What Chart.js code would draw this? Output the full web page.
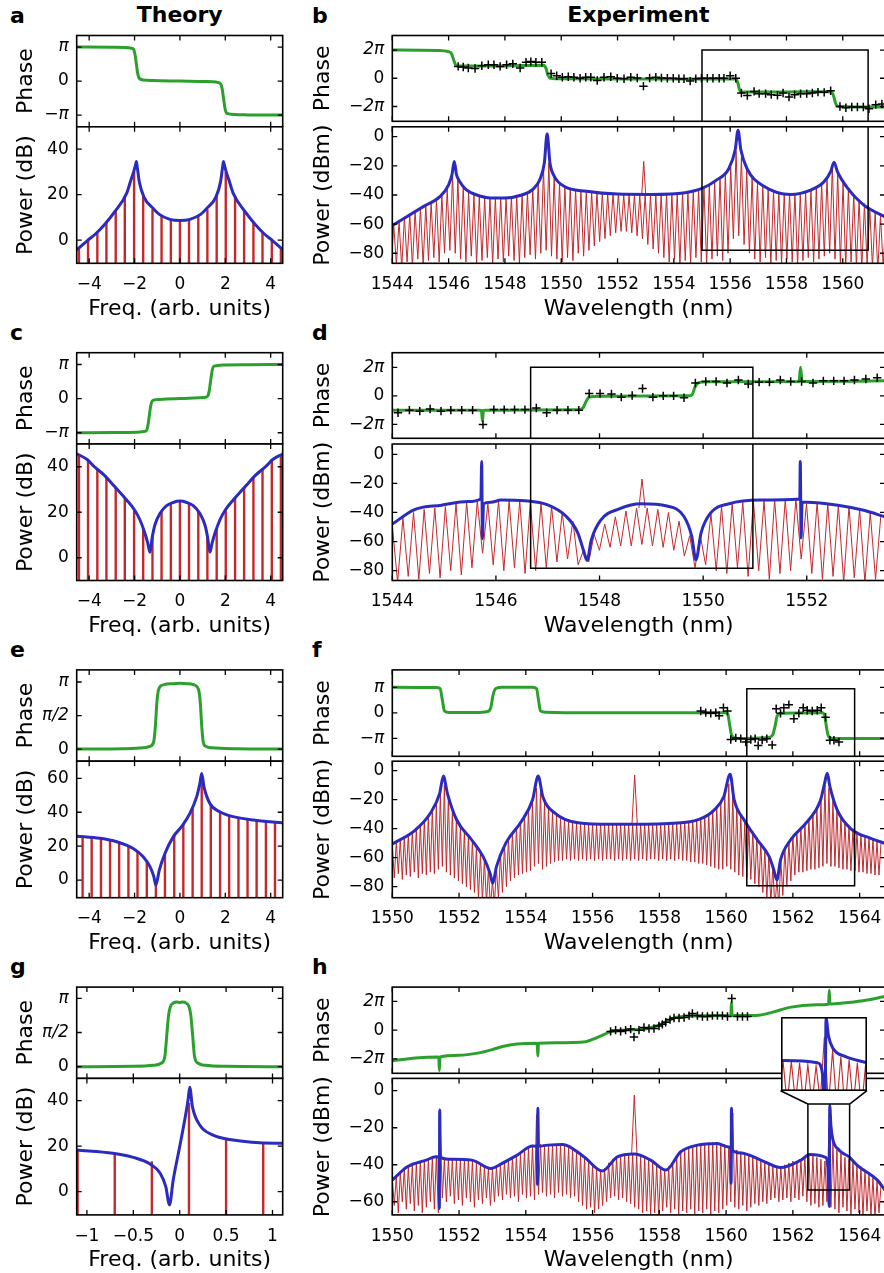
<!DOCTYPE html>
<html lang="en">
<head>
<meta charset="UTF-8">
<title>Theory vs experiment: phase and power spectra</title>
<script src="https://cdn.jsdelivr.net/npm/chart.js"></script>
<style>
  html, body { margin: 0; padding: 0; background: #fff; overflow: hidden; }
  body { width: 884px; height: 1273px; position: relative; font-family: "DejaVu Sans", sans-serif; }
  canvas { position: absolute; }
  .lbl { position: absolute; font: bold 22px "DejaVu Sans", sans-serif; line-height: 22px; color: #000; white-space: nowrap; }
</style>
</head>
<body>
<div class="lbl" style="left:10px;top:4.7px">a</div>
<div class="lbl" style="left:312px;top:4.7px">b</div>
<div class="lbl" style="left:10px;top:321.9px">c</div>
<div class="lbl" style="left:312px;top:321.9px">d</div>
<div class="lbl" style="left:10px;top:639.1px">e</div>
<div class="lbl" style="left:312px;top:639.1px">f</div>
<div class="lbl" style="left:10px;top:956.3px">g</div>
<div class="lbl" style="left:312px;top:956.3px">h</div>
<div class="lbl" style="left:76.7px;width:206px;text-align:center;top:4.2px">Theory</div>
<div class="lbl" style="left:392.3px;width:492px;text-align:center;top:4.2px">Experiment</div>

<script>
// ---------------- data (phase values are in units of pi) ----------------

// axis ticks
const thFreqTicks = [-4, -2, 0, 2, 4];
const thFreqLabels = ['−4', '−2', '0', '2', '4'];
const gFreqTicks = [-1, -0.5, 0, 0.5, 1];
const gFreqLabels = ['−1', '−0.5', '0', '0.5', '1'];
const wlTicksB = [1544, 1546, 1548, 1550, 1552, 1554, 1556, 1558, 1560];
const wlTicksD = [1544, 1546, 1548, 1550, 1552];
const wlTicksF = [1550, 1552, 1554, 1556, 1558, 1560, 1562, 1564];
const piTicks = [-1, 0, 1], piLabels = ['−π', '0', 'π'];
const halfPiTicks = [0, 0.5, 1], halfPiLabels = ['0', 'π/2', 'π'];
const twoPiTicks = [-2, 0, 2], twoPiLabels = ['−2π', '0', '2π'];
const dbTicks40 = [0, 20, 40];
const dbTicks60 = [0, 20, 40, 60];
const dbmTicks80 = [-80, -60, -40, -20, 0];
const dbmTicks60 = [-60, -40, -20, 0];

// ---- theory: a ----
const aPhase = [[-4.55,1.0],[-3.0,0.995],[-2.4,0.985],[-2.15,0.965],[-2.04,0.93],[-1.98,0.78],[-1.92,0.5],[-1.86,0.22],[-1.78,0.07],[-1.6,0.03],[-1.2,0.015],[0,0],
  [1.2,-0.015],[1.6,-0.03],[1.78,-0.07],[1.86,-0.22],[1.92,-0.5],[1.98,-0.78],[2.04,-0.93],[2.15,-0.965],[2.4,-0.985],[3.0,-0.995],[4.53,-1.0]];
const aBlue = [[-4.55,-4.3],[-4.09,-0.3],[-3.70,2.9],[-3.31,7.0],[-2.87,12.5],[-2.35,20.5],[-2.16,26.4],[-2.04,30],[-1.96,33],[-1.92,34.5],[-1.88,32],
  [-1.79,25.6],[-1.59,19],[-1.18,13.9],[-0.91,11.3],[-0.44,9.1],[0,8.6],[0.44,9.1],[0.91,11.3],[1.18,13.9],[1.59,19],[1.79,25.6],[1.88,32],[1.92,34.5],
  [1.96,33],[2.04,30],[2.16,26.4],[2.35,20.5],[2.87,12.5],[3.31,7.0],[3.70,2.9],[4.09,-0.3],[4.53,-4.1]];
const thStemX = [-4.45,-4.05,-3.64,-3.24,-2.83,-2.43,-2.02,-1.62,-1.21,-0.81,-0.40,0,0.40,0.81,1.21,1.62,2.02,2.43,2.83,3.24,3.64,4.05,4.45];
const aStemTop = [-3.6,0,3.3,7.6,13,19.2,30,19.8,13.6,10.8,9.1,8.6,9.1,10.8,13.6,20,30,19.2,13,7.6,3.3,0,-3.6];

// ---- theory: c ----
const cPhase = [[-4.55,-1.0],[-3.0,-0.995],[-1.9,-0.985],[-1.6,-0.965],[-1.47,-0.93],[-1.41,-0.78],[-1.35,-0.5],[-1.29,-0.22],[-1.22,-0.07],[-1.05,-0.03],[-0.6,-0.015],[0,0],
  [0.6,0.015],[1.05,0.03],[1.22,0.07],[1.29,0.22],[1.35,0.5],[1.41,0.78],[1.47,0.93],[1.6,0.965],[1.9,0.985],[3.0,0.995],[4.53,1.0]];
const cBlue = [[-4.55,45.7],[-4.09,43.2],[-3.77,40],[-3.35,36.4],[-2.94,32],[-2.35,25.4],[-2.0,21],[-1.76,16.6],[-1.55,11],[-1.42,6.5],[-1.32,2.4],[-1.22,9],
  [-1.1,14.5],[-0.88,19.5],[-0.6,22.8],[-0.3,24.3],[0,24.9],[0.3,24.3],[0.6,22.8],[0.88,19.5],[1.1,14.5],[1.22,9],[1.32,2.4],[1.42,6.5],[1.55,11],
  [1.76,16.6],[2.0,21],[2.35,25.4],[2.94,32],[3.35,36.4],[3.77,40],[4.09,43.2],[4.53,45.6]];
const cStemTop = [45,43.4,39,35.4,31,26.3,20.8,13,9.5,20.3,23.8,24.9,23.8,20.3,9.5,13,20.8,26.3,31,35.4,39,43.4,45];

// ---- theory: e ----
const ePhase = [[-4.55,0],[-2.5,0.005],[-1.6,0.02],[-1.3,0.045],[-1.15,0.12],[-1.08,0.35],[-1.02,0.68],[-0.96,0.86],[-0.88,0.93],[-0.7,0.96],[-0.3,0.975],[0,0.98],
  [0.3,0.975],[0.6,0.96],[0.75,0.93],[0.84,0.86],[0.9,0.68],[0.96,0.35],[1.02,0.12],[1.12,0.045],[1.4,0.02],[2.5,0.005],[4.53,0]];
const eBlue = [[-4.55,25.9],[-3.53,24.6],[-2.79,22.6],[-2.06,18.6],[-1.62,13.7],[-1.32,7.9],[-1.15,2],[-1.06,-3],[-0.91,5.9],[-0.66,15.7],[-0.29,25.6],
  [0.07,31.5],[0.44,39.3],[0.74,49.2],[0.88,57],[0.96,62.9],[1.06,55],[1.32,45.2],[1.76,40.3],[2.35,37.4],[3.23,35.4],[4.53,33.8]];
const eStemX = [-4.29,-3.89,-3.48,-3.08,-2.68,-2.27,-1.87,-1.46,-1.06,-0.66,-0.25,0.15,0.56,0.96,1.36,1.77,2.17,2.58,2.98,3.38,3.79,4.19];
const eStemTop = [25.6,25,24.5,23.4,22.2,19.8,16.5,10.8,-2.5,15.5,26.2,33,43,58,44.8,40.2,38.2,37,36,35.2,34.6,34.1];

// ---- theory: g ----
const gPhase = [[-1.11,0],[-0.5,0.005],[-0.28,0.02],[-0.2,0.05],[-0.16,0.15],[-0.14,0.45],[-0.12,0.75],[-0.1,0.88],[-0.07,0.93],[-0.03,0.945],[0,0.94],
  [0.03,0.945],[0.07,0.93],[0.1,0.88],[0.12,0.75],[0.14,0.45],[0.16,0.15],[0.2,0.05],[0.28,0.02],[0.5,0.005],[1.11,0]];
const gBlue = [[-1.11,18.3],[-0.72,16.9],[-0.5,15.1],[-0.32,12.2],[-0.21,8.1],[-0.15,2.2],[-0.11,-5.8],[-0.07,5.1],[0,19.8],[0.054,31.5],[0.09,40.3],
  [0.108,45.9],[0.137,37.4],[0.216,29.3],[0.36,24.9],[0.575,22.7],[0.863,21.5],[1.11,21.3]];
const gStemX = [-1.1,-0.7,-0.3,0.1,0.5,0.9];
const gStemTop = [18.3,17,13.4,39,23,21.5];

// ---- experiment: b ----
const bPhase = [[1544,2.0],[1545.6,1.97],[1546.0,1.88],[1546.1,1.75],[1546.18,1.3],[1546.25,0.95],[1546.35,0.86],[1547.5,0.86],[1548.6,0.9],[1549.38,0.92],
  [1549.46,0.7],[1549.53,0.2],[1549.62,0.0],[1550.0,-0.04],[1553.0,-0.05],[1556.2,-0.06],[1556.27,-0.3],[1556.33,-0.8],[1556.42,-0.98],[1558.0,-0.97],
  [1559.6,-0.95],[1559.68,-1.3],[1559.75,-1.8],[1559.85,-2.0],[1561.5,-2.04]];
const bMarks = [[1546.34,0.84],[1546.52,0.8],[1546.7,0.73],[1546.94,0.69],[1547.18,0.89],[1547.41,0.96],[1547.61,0.96],[1547.83,0.84],[1548.06,0.96],
  [1548.28,1.02],[1548.54,0.73],[1548.75,1.13],[1548.92,1.18],[1549.1,1.13],[1549.31,1.13],[1549.64,0.33],[1549.84,0.18],[1550.04,0.07],[1550.25,0.11],
  [1550.45,0.07],[1550.67,0],[1550.87,0.07],[1551.05,0.07],[1551.28,-0.16],[1551.52,0.07],[1551.76,0.11],[1551.99,0],[1552.23,-0.04],[1552.47,0.07],
  [1552.7,0.02],[1552.92,-0.56],[1553.14,0.02],[1553.36,0.07],[1553.56,0.02],[1553.77,0],[1553.98,0],[1554.18,-0.04],[1554.36,-0.04],[1554.58,-0.2],
  [1554.78,-0.04],[1554.98,0],[1555.19,0],[1555.39,0],[1555.61,0],[1555.78,0],[1556.0,0.18],[1556.2,0],[1556.4,-1.04],[1556.61,-1.22],[1556.85,-0.93],
  [1557.03,-1.09],[1557.26,-1.09],[1557.46,-1.16],[1557.68,-1.2],[1557.88,-1.04],[1558.09,-1.33],[1558.29,-1.16],[1558.5,-1.09],[1558.72,-1.09],
  [1558.92,-1.04],[1559.12,-0.98],[1559.34,-1.0],[1559.57,-0.89],[1559.9,-2.0],[1560.11,-2.09],[1560.32,-2.04],[1560.52,-2.04],[1560.73,-2.04],
  [1560.93,-2.16],[1561.17,-1.87],[1561.39,-1.82]];
const bBlue = [[1544.0,-61],[1545.1,-48],[1545.7,-41],[1546.0,-33],[1546.12,-26],[1546.2,-17],[1546.28,-26],[1546.4,-31],[1546.6,-36],[1547.0,-40],
  [1547.5,-42],[1548.0,-42],[1548.6,-40],[1549.0,-36],[1549.25,-29],[1549.4,-18],[1549.5,2],[1549.6,-18],[1549.75,-27],[1550.1,-34],[1550.9,-37.5],
  [1552.0,-39.4],[1553.2,-39.6],[1554.4,-38.4],[1555.0,-35.5],[1555.5,-30],[1555.95,-22],[1556.18,-9],[1556.28,4.5],[1556.38,-9],[1556.6,-22],
  [1557.2,-34],[1558.15,-39.6],[1558.86,-36.6],[1559.33,-31],[1559.57,-24],[1559.69,-17.5],[1559.81,-24],[1560.16,-35],[1560.75,-47],[1561.5,-55]];
const bCombStart = 1544.05, bCombStep = 0.19;
const bCombTop = [-60,-58,-55,-53,-51,-49,-47,-45,-43,-40, -36,-26,-29,-35,-38,-40,-41,-42,-42,-42, -42,-42,-41,-41,-40,-38,-36,-32,-22,-18,
  -27,-32,-34,-35,-36,-37,-37,-38,-38,-39, -39,-39,-39,-40,-40,-40,-40,-40,-40,-40, -39,-39,-39,-39,-38,-38,-37,-36,-35,-33,
  -31,-28,-25,-21,-10,-14,-23,-28,-32,-34, -36,-37,-38,-39,-39,-39,-39,-38,-37,-35, -32,-28,-20,-25,-32,-36,-40,-43,-46,-49, -52,-54,-56];
const bCombLow = [-92,-88,-90,-86,-89,-84,-88,-85,-83,-86, -80,-78,-80,-84,-86,-82,-87,-85,-83,-88, -84,-86,-82,-85,-87,-83,-81,-84,-80,-78,
  -82,-84,-86,-83,-85,-80,-82,-78,-75,-72, -70,-68,-66,-65,-65,-66,-68,-70,-74,-77, -80,-83,-86,-84,-88,-85,-87,-83,-86,-88,
  -84,-82,-85,-80,-70,-68,-74,-80,-84,-86, -83,-88,-85,-87,-84,-86,-88,-85,-83,-86, -84,-82,-80,-84,-87,-90,-86,-89,-91,-88, -90,-92,-89];
const bPump = [[1552.86,-40],[1552.93,-17],[1553.0,-40]];

// ---- experiment: d ----
const dPhase = [[1544,-1.0],[1545.68,-1.0],[1545.72,-1.02],[1545.74,-1.75],[1545.76,-1.02],[1545.8,-1.0],[1547.6,-0.97],[1547.68,-0.85],[1547.74,-0.4],
  [1547.8,-0.08],[1548.0,-0.02],[1549.72,0.0],[1549.79,0.1],[1549.84,0.6],[1549.9,0.9],[1550.1,0.98],[1551.85,1.0],[1551.88,2.0],[1551.91,1.0],[1553.51,1.05]];
const dMarks = [[1544.11,-1.18],[1544.33,-1.0],[1544.53,-1.07],[1544.73,-0.92],[1544.94,-1.07],[1545.13,-1.0],[1545.34,-1.0],[1545.55,-1.0],[1545.75,-2.01],
  [1545.96,-0.96],[1546.16,-0.96],[1546.36,-0.96],[1546.56,-0.96],[1546.78,-0.85],[1546.98,-1.18],[1547.18,-1.0],[1547.39,-1.0],[1547.6,-1.0],
  [1547.8,0.17],[1548.01,0.17],[1548.23,0.13],[1548.42,-0.09],[1548.63,0.02],[1548.83,0.52],[1549.03,-0.09],[1549.23,0],[1549.43,0],[1549.63,-0.13],
  [1549.85,0.9],[1550.05,1.0],[1550.25,1.0],[1550.46,0.9],[1550.68,1.11],[1550.87,0.83],[1551.08,0.96],[1551.28,0.96],[1551.49,1.11],[1551.69,1.0],
  [1551.9,1.0],[1552.12,0.9],[1552.32,1.05],[1552.52,1.05],[1552.72,1.05],[1552.92,1.11],[1553.14,1.18],[1553.36,1.27]];
const dBlue = [[1544.0,-48],[1544.43,-38],[1544.95,-35],[1545.46,-32.5],[1545.71,-30.5],[1545.725,-5],[1545.74,-58],[1545.76,-34],[1545.9,-33],[1546.1,-31.5],
  [1546.56,-32],[1547.0,-34.8],[1547.36,-42.8],[1547.58,-54],[1547.69,-66],[1547.76,-73],[1547.84,-59],[1548.02,-45.4],[1548.39,-37.4],[1548.8,-34],
  [1549.3,-35.5],[1549.63,-42.8],[1549.78,-56.5],[1549.86,-72.6],[1549.96,-54],[1550.14,-40.5],[1550.5,-34],[1551.1,-31.4],[1551.865,-30.7],
  [1551.875,-5],[1551.89,-57.5],[1551.91,-33],[1552.0,-33],[1552.6,-35],[1553.1,-38.5],[1553.51,-43]];
const dCombStart = 1544.0, dCombStep = 0.205;
const dCombTop = [-49,-44,-40,-38,-37,-36,-34,-33,-32,-34, -32,-32,-32,-33,-34,-36,-40,-46,-66,-55, -48,-43,-39,-37,-37,-38,-40,-46,-56,-56,
  -41,-36,-34,-33,-32,-32,-31,-31,-31,-34, -33,-34,-35,-36,-38,-40,-42];
const dCombLow = [-86,-88,-84,-86,-82,-85,-80,-83,-78,-68, -76,-80,-78,-82,-80,-78,-74,-72,-76,-74, -66,-64,-63,-63,-62,-63,-64,-66,-70,-78,
  -76,-80,-82,-78,-84,-80,-86,-82,-80,-72, -82,-86,-84,-88,-85,-88,-86];
const dPump = [[1548.76,-37],[1548.82,-17],[1548.88,-37]];

// ---- experiment: f ----
const fPhase = [[1550,1.0],[1551.3,0.99],[1551.43,0.95],[1551.5,0.5],[1551.56,0.08],[1551.7,0.01],[1552.5,0.01],[1552.85,0.05],[1552.95,0.2],[1553.02,0.7],
  [1553.1,0.95],[1553.3,1.0],[1554.2,1.0],[1554.32,0.95],[1554.38,0.5],[1554.44,0.08],[1554.6,0.02],[1556,0.0],[1560.0,0.0],[1560.06,-0.1],[1560.11,-0.5],
  [1560.17,-0.9],[1560.3,-1.0],[1561.2,-0.97],[1561.3,-0.95],[1561.4,-0.85],[1561.47,-0.5],[1561.53,-0.12],[1561.65,-0.02],[1562.88,0.0],[1562.95,-0.1],
  [1563.0,-0.5],[1563.06,-0.9],[1563.2,-1.0],[1564.76,-1.0]];
const fMarks = [[1559.24,0.07],[1559.39,0.01],[1559.54,-0.02],[1559.69,0.01],[1559.79,-0.11],[1559.92,0.2],[1560.04,0.07],[1560.14,-1.04],[1560.29,-0.98],
  [1560.44,-1.01],[1560.59,-1.14],[1560.74,-1.04],[1560.87,-1.01],[1560.96,-1.28],[1561.08,-1.06],[1561.22,-1.01],[1561.38,-1.26],[1561.5,0.16],
  [1561.63,-0.02],[1561.73,0.2],[1561.88,0.32],[1562.03,-0.23],[1562.18,-0.02],[1562.31,0.2],[1562.43,0.1],[1562.58,0.07],[1562.73,0.1],[1562.85,0.2],
  [1562.98,-0.17],[1563.11,-1.07],[1563.23,-1.07],[1563.38,-1.14]];
const fBlue = [[1550.0,-50.6],[1550.68,-41.1],[1551.14,-29.4],[1551.42,-15.6],[1551.53,-3.7],[1551.65,-15.6],[1551.93,-34],[1552.38,-47.8],[1552.72,-59.3],
  [1552.93,-70.8],[1553.01,-77.7],[1553.12,-66.2],[1553.4,-50],[1553.86,-35.2],[1554.2,-20.2],[1554.37,-3.7],[1554.51,-18],[1554.88,-29.4],[1555.56,-35.9],
  [1556.58,-37],[1558.28,-36.4],[1559.19,-33.6],[1559.64,-27.2],[1559.93,-18],[1560.12,-2.5],[1560.24,-20],[1560.54,-34],[1560.94,-47.8],[1561.29,-59.3],
  [1561.43,-68.5],[1561.52,-75.4],[1561.63,-61.6],[1561.93,-47.8],[1562.43,-35.2],[1562.83,-20.2],[1562.95,-8.7],[1563.03,-1.8],[1563.11,-11],
  [1563.33,-27.2],[1563.73,-39.9],[1564.33,-46.7],[1564.76,-50.1]];
const fCombStart = 1550.0, fCombStep = 0.12;
const fCombTop = [-51,-49,-47,-45,-44,-42,-40,-37,-34,-31, -27,-22,-16,-10,-18,-28,-33,-38,-42,-45, -48,-53,-57,-61,-68,-76,-67,-57,-51,-47,
  -43,-39,-35,-30,-26,-21,-12,-14,-22,-26, -29,-31,-33,-34,-35,-36,-36,-37,-37,-37, -37,-37,-37,-37,-37,-37,-37,-37,-37,-37,
  -37,-37,-37,-37,-37,-37,-37,-37,-37,-37, -36,-36,-36,-35,-35,-34,-34,-33,-32,-30, -28,-25,-22,-17,-9,-17,-25,-30,-35,-38,
  -42,-46,-50,-55,-59,-66,-75,-62,-54,-49, -45,-42,-39,-36,-33,-29,-25,-20,-10,-12, -21,-27,-31,-35,-38,-40,-42,-44,-45,-46, -47,-49,-50];
const fCombLow = [-72,-74,-71,-75,-72,-73,-70,-74,-71,-72, -70,-71,-68,-66,-70,-72,-74,-76,-78,-80, -82,-84,-88,-90,-92,-95,-92,-88,-84,-80,
  -76,-74,-72,-71,-70,-69,-66,-64,-68,-66, -64,-63,-62,-62,-61,-62,-61,-62,-61,-62, -61,-62,-61,-62,-61,-61,-62,-61,-62,-61,
  -62,-61,-62,-61,-62,-61,-61,-62,-61,-62, -61,-62,-61,-62,-62,-63,-63,-64,-64,-65, -66,-67,-68,-68,-66,-68,-70,-72,-73,-74,
  -75,-78,-80,-84,-88,-92,-95,-92,-86,-80, -76,-72,-70,-70,-69,-68,-68,-67,-66,-64, -66,-66,-67,-68,-68,-69,-69,-70,-70,-71, -71,-72,-72];
const fPump = [[1557.18,-37],[1557.26,-3],[1557.34,-37]];

// ---- experiment: h ----
const hPhase = [[1550.0,-2.13],[1550.7,-1.93],[1551.39,-1.87],[1551.41,-2.8],[1551.43,-1.87],[1552.0,-1.75],[1552.6,-1.58],[1553.0,-1.35],[1553.3,-1.14],
  [1553.74,-0.97],[1554.34,-0.92],[1554.36,-1.8],[1554.38,-0.92],[1554.9,-0.88],[1555.8,-0.8],[1556.1,-0.55],[1556.35,-0.3],[1556.55,-0.09],[1557.0,0.0],
  [1557.6,0.1],[1558.05,0.4],[1558.4,0.82],[1558.75,0.95],[1559.4,1.0],[1560.14,1.01],[1560.16,1.93],[1560.18,1.01],[1560.9,1.02],[1561.4,1.25],
  [1561.9,1.58],[1562.7,1.76],[1563.07,1.8],[1563.09,2.77],[1563.11,1.82],[1563.5,1.88],[1564.1,2.04],[1564.76,2.33]];
const hMarks = [[1556.54,-0.09],[1556.69,0],[1556.84,-0.09],[1556.99,0],[1557.14,0.07],[1557.24,-0.48],[1557.39,0],[1557.54,0.18],[1557.69,0.11],
  [1557.84,0.11],[1557.99,0.29],[1558.09,0.4],[1558.19,0.55],[1558.32,0.73],[1558.44,0.84],[1558.59,0.84],[1558.74,0.88],[1558.89,1.01],[1558.99,1.16],
  [1559.14,1.01],[1559.29,0.95],[1559.44,0.95],[1559.59,1.01],[1559.74,1.01],[1559.89,1.01],[1560.04,0.95],[1560.17,2.2],[1560.34,0.95],[1560.49,0.95],
  [1560.64,0.95]];
const hBlue = [[1550.0,-48.3],[1550.45,-41.1],[1551.02,-37.5],[1551.3,-35.7],[1551.4,-36],[1551.41,-63.6],[1551.42,-10.4],[1551.44,-36],[1551.82,-37.1],
  [1552.38,-37.5],[1552.95,-42],[1553.29,-39.3],[1553.74,-34.8],[1554.2,-29.9],[1554.34,-30],[1554.35,-50.6],[1554.36,-9.5],[1554.38,-30],[1554.65,-29.4],
  [1555.1,-29],[1555.74,-35.7],[1556.29,-43.4],[1556.74,-35.7],[1557.24,-34.2],[1557.74,-37.5],[1558.19,-42.9],[1558.64,-33],[1559.14,-29.4],
  [1559.74,-28.5],[1560.04,-30.3],[1560.14,-31],[1560.15,-50],[1560.16,-9.5],[1560.18,-32],[1560.44,-33.6],[1561.04,-37.5],[1561.64,-41.5],
  [1562.24,-37.5],[1562.5,-34.5],[1562.98,-36],[1563.05,-42],[1563.09,-62.6],[1563.105,-8],[1563.14,-19],[1563.2,-26.5],[1563.38,-32],[1563.7,-36],
  [1563.93,-40.3],[1564.53,-48.3],[1564.76,-53.7]];
const hCombStart = 1550.0, hCombStep = 0.12;
const hCombTop = [-48,-46,-44,-42,-41,-40,-39,-38,-38,-37, -36,-35,-20,-37,-37,-37,-37,-37,-37,-37, -38,-39,-40,-41,-42,-42,-41,-40,-38,-37,
  -36,-35,-34,-32,-31,-30,-13,-29,-30,-29, -29,-29,-29,-30,-31,-32,-33,-35,-36,-38, -40,-42,-43,-42,-39,-37,-36,-35,-34,-34,
  -34,-34,-35,-36,-37,-38,-40,-41,-43,-41, -38,-35,-33,-32,-31,-30,-29,-29,-29,-28, -28,-28,-29,-29,-30,-12,-32,-33,-34,-35,
  -36,-37,-38,-39,-40,-41,-41,-41,-40,-39, -38,-38,-37,-36,-35,-35,-36,-37,-38,-20, -28,-32,-34,-36,-37,-38,-40,-41,-43,-45, -47,-49,-51];
const hCombLow = [-68,-62,-66,-60,-64,-61,-65,-62,-66,-63, -60,-64,-66,-58,-60,-57,-61,-59,-62,-58, -60,-63,-59,-61,-58,-62,-60,-57,-59,-56,
  -58,-57,-60,-56,-58,-57,-59,-56,-55,-57, -56,-58,-55,-57,-56,-58,-57,-60,-62,-64, -63,-66,-64,-62,-60,-58,-57,-59,-58,-60,
  -61,-63,-64,-66,-65,-67,-66,-68,-65,-63, -66,-64,-67,-65,-66,-64,-67,-65,-66,-64, -67,-65,-66,-64,-62,-60,-63,-64,-62,-65,
  -63,-61,-62,-60,-61,-59,-58,-60,-59,-58, -60,-58,-59,-57,-60,-62,-61,-63,-62,-60, -63,-64,-66,-63,-65,-67,-64,-66,-68,-65, -67,-69,-66];
const hPump = [[1557.17,-34],[1557.25,-2.4],[1557.33,-34]];

// zoom boxes (data units)
const bBox = {x1: 1555.0, x2: 1560.9, phTop: 2, pwBot: -78};
const dBox = {x1: 1546.67, x2: 1550.96, phTop: 2, pwBot: -78.4};
const fBox = {x1: 1560.62, x2: 1563.85, phTop: 0.94, pwBot: -79.3};
const hZoom = {x1: 1562.45, x2: 1563.7, yTop: -7.2, yBot: -53.7, ix1: 1561.63, ix2: 1564.22, iyPow: 0, iyPhase: 0.94};

// ---------------- drawing ----------------
const GREEN = '#2ca02c', BLUE = '#2b2bc0', RED = '#c4282c';
Chart.defaults.font.family = '"DejaVu Sans", sans-serif';
Chart.defaults.color = '#000';

const ROW_TOP = [35.5, 352.7, 669.9, 987.1];
const PH_H = 91.3, PW_H = 136.5;
const COL = {
  L: {L: 76.7, w: 206, W: 63.2, R: 14},
  R: {L: 392.3, w: 492.7, W: 82.2, R: 6}
};

const pts = a => a.map(([x, y]) => ({x, y}));
function stems(xs, tops, base) {
  const d = [];
  xs.forEach((x, i) => { d.push({x, y: base}, {x, y: tops[i]}, {x, y: null}); });
  return d;
}
function comb(start, step, tops, lows) {
  const d = [];
  const n = Math.min(tops.length, lows.length);
  for (let i = 0; i < n; i++) {
    const x = start + i * step;
    d.push({x: x - step / 2, y: lows[i]}, {x, y: tops[i]});
  }
  return d;
}
function line(data, color, width, smooth) {
  return {data, borderColor: color, borderWidth: width, pointRadius: 0, fill: false, tension: 0, clip: 0,
    cubicInterpolationMode: smooth ? 'monotone' : 'default'};
}
function marks(data) {
  return {data: pts(data), showLine: false, pointStyle: 'cross', pointRadius: 4.2, pointBorderColor: '#000',
    pointBorderWidth: 1.5, borderColor: '#000', clip: 0};
}

const zeroPad = s => { s.paddingLeft = 0; s.paddingRight = 0; s.paddingTop = 0; s.paddingBottom = 0; };

function xAxis(ax, show, title) {
  return {
    type: 'linear', position: 'bottom', min: ax.min, max: ax.max,
    grid: {display: false, drawTicks: false}, border: {display: false},
    afterBuildTicks: s => { s.ticks = ax.ticks.map(v => ({value: v})); },
    ticks: {display: show, autoSkip: false, maxRotation: 0, padding: 11, font: {size: 17}, callback: (v, i) => ax.labels[i]},
    title: {display: show, text: title || '', font: {size: 22}, padding: 0}
  };
}
function yAxis(ax, title) {
  return {
    type: 'linear', position: 'left', min: ax.min, max: ax.max,
    grid: {display: false, drawTicks: false}, border: {display: false},
    afterBuildTicks: s => { s.ticks = ax.ticks.map(v => ({value: v})); },
    ticks: {autoSkip: false, padding: 8, callback: (v, i) => ax.labels[i],
      // pi labels in italic, like math text
      font: c => ({size: 17, style: /π/.test(ax.labels[c.index] || '') ? 'italic' : 'normal'})},
    title: {display: true, text: title, font: {size: 22}, padding: 0}
  };
}

// frame with inward ticks on all four sides
const frame = {
  id: 'frame',
  afterDraw(chart) {
    const {ctx, chartArea: a} = chart;
    const x = chart.scales.x, y = chart.scales.y;
    ctx.save();
    ctx.strokeStyle = '#000';
    ctx.lineWidth = 1.3;
    ctx.beginPath();
    x.ticks.forEach(t => {
      const p = x.getPixelForValue(t.value);
      ctx.moveTo(p, a.top); ctx.lineTo(p, a.top + 5);
      ctx.moveTo(p, a.bottom); ctx.lineTo(p, a.bottom - 5);
    });
    y.ticks.forEach(t => {
      const p = y.getPixelForValue(t.value);
      ctx.moveTo(a.left, p); ctx.lineTo(a.left + 5, p);
      ctx.moveTo(a.right, p); ctx.lineTo(a.right - 5, p);
    });
    ctx.stroke();
    ctx.lineWidth = 1.6;
    ctx.strokeRect(a.left, a.top, a.right - a.left, a.bottom - a.top);
    ctx.restore();
  }
};

// zoom boxes (open towards the neighbouring subplot) and the inset connector of h
const zbox = {
  id: 'zbox',
  afterDatasetsDraw(chart, args, o) {
    if (o.x1 === undefined) return;
    const {ctx, chartArea: a} = chart;
    const x = chart.scales.x, y = chart.scales.y;
    const p1 = x.getPixelForValue(o.x1), p2 = x.getPixelForValue(o.x2);
    ctx.save();
    ctx.strokeStyle = '#000';
    ctx.lineWidth = 1.5;
    ctx.beginPath();
    if (o.rect) {
      const t = y.getPixelForValue(o.yTop), b = y.getPixelForValue(o.yBot);
      ctx.rect(p1, t, p2 - p1, b - t);
      const iy = y.getPixelForValue(o.iy);
      ctx.moveTo(x.getPixelForValue(o.ix1), iy); ctx.lineTo(p1, t);
      ctx.moveTo(x.getPixelForValue(o.ix2), iy); ctx.lineTo(p2, t);
    } else {
      const py = y.getPixelForValue(o.y);
      const edge = o.side === 'top' ? a.bottom : a.top;
      ctx.moveTo(p1, edge); ctx.lineTo(p1, py); ctx.lineTo(p2, py); ctx.lineTo(p2, edge);
    }
    ctx.stroke();
    ctx.restore();
  }
};

function mk(g, xOpt, yOpt, datasets, plugins, pluginOpts) {
  const cl = Math.floor(g.L - g.W), ct = Math.floor(g.T - g.P);
  const wL = g.L - cl, pT = g.T - ct;
  const cw = Math.ceil(wL + g.w + g.R), ch = Math.ceil(pT + g.h + g.H);
  const pR = cw - wL - g.w, hB = ch - pT - g.h;
  const cv = document.createElement('canvas');
  cv.width = cw; cv.height = ch;
  Object.assign(cv.style, {left: cl + 'px', top: ct + 'px', width: cw + 'px', height: ch + 'px'});
  document.body.appendChild(cv);
  xOpt.afterFit = s => { s.height = hB; zeroPad(s); };
  yOpt.afterFit = s => { s.width = wL; zeroPad(s); };
  return new Chart(cv, {
    type: 'line',
    data: {datasets},
    options: {
      responsive: false, animation: false, devicePixelRatio: 1, events: [],
      layout: {padding: {top: pT, right: pR, bottom: 0, left: 0}},
      scales: {x: xOpt, y: yOpt},
      elements: {point: {radius: 0}, line: {borderJoinStyle: 'round', borderCapStyle: 'butt'}},
      plugins: Object.assign({legend: {display: false}, tooltip: {enabled: false}}, pluginOpts)
    },
    plugins
  });
}

function panel(o) {
  const c = COL[o.col], top = ROW_TOP[o.row];
  const phase = mk({L: c.L, w: c.w, W: c.W, R: c.R, T: top, h: PH_H, P: 14, H: 0},
    xAxis(o.x, false), yAxis(o.ph, 'Phase'), o.phData, [frame, zbox], {zbox: o.phBox || {}});
  const power = mk({L: c.L, w: c.w, W: c.W, R: c.R, T: top + PH_H, h: PW_H, P: 14, H: 57.9},
    xAxis(o.x, true, o.xTitle), yAxis(o.pw, o.pwTitle), o.pwData, [frame, zbox], {zbox: o.pwBox || {}});
  return {phase, power};
}

const FREQ = 'Freq. (arb. units)', WL = 'Wavelength (nm)';
const thX = {min: -4.55, max: 4.53, ticks: thFreqTicks, labels: thFreqLabels};
const STEM_BASE = -20;

// a
panel({col: 'L', row: 0, x: thX, xTitle: FREQ,
  ph: {min: -1.345, max: 1.34, ticks: piTicks, labels: piLabels},
  pw: {min: -10.2, max: 49.8, ticks: dbTicks40, labels: dbTicks40.map(String)}, pwTitle: 'Power (dB)',
  phData: [line(pts(aPhase), GREEN, 3, true)],
  pwData: [line(pts(aBlue), BLUE, 3, true), line(stems(thStemX, aStemTop, STEM_BASE), RED, 2.4)]});
// c
panel({col: 'L', row: 1, x: thX, xTitle: FREQ,
  ph: {min: -1.33, max: 1.345, ticks: piTicks, labels: piLabels},
  pw: {min: -10, max: 50, ticks: dbTicks40, labels: dbTicks40.map(String)}, pwTitle: 'Power (dB)',
  phData: [line(pts(cPhase), GREEN, 3, true)],
  pwData: [line(pts(cBlue), BLUE, 3, true), line(stems(thStemX, cStemTop, STEM_BASE), RED, 2.4)]});
// e
panel({col: 'L', row: 2, x: thX, xTitle: FREQ,
  ph: {min: -0.18, max: 1.18, ticks: halfPiTicks, labels: halfPiLabels},
  pw: {min: -10.4, max: 70.1, ticks: dbTicks60, labels: dbTicks60.map(String)}, pwTitle: 'Power (dB)',
  phData: [line(pts(ePhase), GREEN, 3, true)],
  pwData: [line(pts(eBlue), BLUE, 3, true), line(stems(eStemX, eStemTop, STEM_BASE), RED, 2.4)]});
// g
panel({col: 'L', row: 3, x: {min: -1.11, max: 1.11, ticks: gFreqTicks, labels: gFreqLabels}, xTitle: FREQ,
  ph: {min: -0.171, max: 1.164, ticks: halfPiTicks, labels: halfPiLabels},
  pw: {min: -10.2, max: 49.8, ticks: dbTicks40, labels: dbTicks40.map(String)}, pwTitle: 'Power (dB)',
  phData: [line(pts(gPhase), GREEN, 3, true)],
  pwData: [line(pts(gBlue), BLUE, 3, true), line(stems(gStemX, gStemTop, STEM_BASE), RED, 2.4)]});

const dbmLabels80 = dbmTicks80.map(v => v < 0 ? '−' + (-v) : String(v));
const dbmLabels60 = dbmTicks60.map(v => v < 0 ? '−' + (-v) : String(v));

// b
panel({col: 'R', row: 0, x: {min: 1544, max: 1561.5, ticks: wlTicksB, labels: wlTicksB.map(String)}, xTitle: WL,
  ph: {min: -3.05, max: 3.03, ticks: twoPiTicks, labels: twoPiLabels},
  pw: {min: -86.9, max: 6.8, ticks: dbmTicks80, labels: dbmLabels80}, pwTitle: 'Power (dBm)',
  phData: [marks(bMarks), line(pts(bPhase), GREEN, 3, true)],
  pwData: [line(pts(bBlue), BLUE, 3, true), line(comb(bCombStart, bCombStep, bCombTop, bCombLow), RED, 1), line(pts(bPump), RED, 1)],
  phBox: {x1: bBox.x1, x2: bBox.x2, y: bBox.phTop, side: 'top'},
  pwBox: {x1: bBox.x1, x2: bBox.x2, y: bBox.pwBot, side: 'bottom'}});
// d
panel({col: 'R', row: 1, x: {min: 1544, max: 1553.51, ticks: wlTicksD, labels: wlTicksD.map(String)}, xTitle: WL,
  ph: {min: -2.97, max: 3.02, ticks: twoPiTicks, labels: twoPiLabels},
  pw: {min: -86.8, max: 7.1, ticks: dbmTicks80, labels: dbmLabels80}, pwTitle: 'Power (dBm)',
  phData: [marks(dMarks), line(pts(dPhase), GREEN, 3, true)],
  pwData: [line(pts(dBlue), BLUE, 3, true), line(comb(dCombStart, dCombStep, dCombTop, dCombLow), RED, 1), line(pts(dPump), RED, 1)],
  phBox: {x1: dBox.x1, x2: dBox.x2, y: dBox.phTop, side: 'top'},
  pwBox: {x1: dBox.x1, x2: dBox.x2, y: dBox.pwBot, side: 'bottom'}});
// f
panel({col: 'R', row: 2, x: {min: 1550, max: 1564.76, ticks: wlTicksF, labels: wlTicksF.map(String)}, xTitle: WL,
  ph: {min: -1.7, max: 1.68, ticks: piTicks, labels: piLabels},
  pw: {min: -87.6, max: 6.55, ticks: dbmTicks80, labels: dbmLabels80}, pwTitle: 'Power (dBm)',
  phData: [marks(fMarks), line(pts(fPhase), GREEN, 3, true)],
  pwData: [line(pts(fBlue), BLUE, 3, true), line(comb(fCombStart, fCombStep, fCombTop, fCombLow), RED, 1), line(pts(fPump), RED, 1)],
  phBox: {x1: fBox.x1, x2: fBox.x2, y: fBox.phTop, side: 'top'},
  pwBox: {x1: fBox.x1, x2: fBox.x2, y: fBox.pwBot, side: 'bottom'}});
// h
const hComb = comb(hCombStart, hCombStep, hCombTop, hCombLow);
const h = panel({col: 'R', row: 3, x: {min: 1550, max: 1564.76, ticks: wlTicksF, labels: wlTicksF.map(String)}, xTitle: WL,
  ph: {min: -3.0, max: 2.99, ticks: twoPiTicks, labels: twoPiLabels},
  pw: {min: -67.1, max: 6.65, ticks: dbmTicks60, labels: dbmLabels60}, pwTitle: 'Power (dBm)',
  phData: [marks(hMarks), line(pts(hPhase), GREEN, 3, true)],
  pwData: [line(pts(hBlue), BLUE, 3, true), line(hComb, RED, 1), line(pts(hPump), RED, 1)],
  pwBox: {rect: true, x1: hZoom.x1, x2: hZoom.x2, yTop: hZoom.yTop, yBot: hZoom.yBot, ix1: hZoom.ix1, ix2: hZoom.ix2, iy: hZoom.iyPow}});

// inset of h: magnified view of the boxed resonance
(function () {
  const pw = h.power, ph = h.phase;
  const L = pw.canvas.offsetLeft + pw.scales.x.getPixelForValue(hZoom.ix1);
  const R = pw.canvas.offsetLeft + pw.scales.x.getPixelForValue(hZoom.ix2);
  const B = pw.canvas.offsetTop + pw.scales.y.getPixelForValue(hZoom.iyPow);
  const T = ph.canvas.offsetTop + ph.scales.y.getPixelForValue(hZoom.iyPhase);
  const cl = Math.round(L), ct = Math.round(T), cw = Math.round(R) - cl, chh = Math.round(B) - ct;
  const cv = document.createElement('canvas');
  cv.width = cw; cv.height = chh;
  Object.assign(cv.style, {left: cl + 'px', top: ct + 'px', width: cw + 'px', height: chh + 'px', zIndex: 5});
  document.body.appendChild(cv);
  const insetFrame = {
    id: 'insetFrame',
    beforeDraw(chart) {
      const c = chart.ctx;
      c.save(); c.fillStyle = '#fff'; c.fillRect(0, 0, chart.width, chart.height); c.restore();
    },
    afterDraw(chart) {
      const c = chart.ctx;
      c.save(); c.strokeStyle = '#000'; c.lineWidth = 1.6;
      c.strokeRect(0.8, 0.8, chart.width - 1.6, chart.height - 1.6); c.restore();
    }
  };
  new Chart(cv, {
    type: 'line',
    data: {datasets: [line(pts(hBlue), BLUE, 3, true), line(hComb, RED, 1.1)]},
    options: {
      responsive: false, animation: false, devicePixelRatio: 1, events: [],
      layout: {padding: 0},
      scales: {
        x: {type: 'linear', display: false, min: hZoom.x1, max: hZoom.x2},
        y: {type: 'linear', display: false, min: hZoom.yBot, max: hZoom.yTop}
      },
      elements: {point: {radius: 0}},
      plugins: {legend: {display: false}, tooltip: {enabled: false}}
    },
    plugins: [insetFrame]
  });
})();
</script>
</body>
</html>
